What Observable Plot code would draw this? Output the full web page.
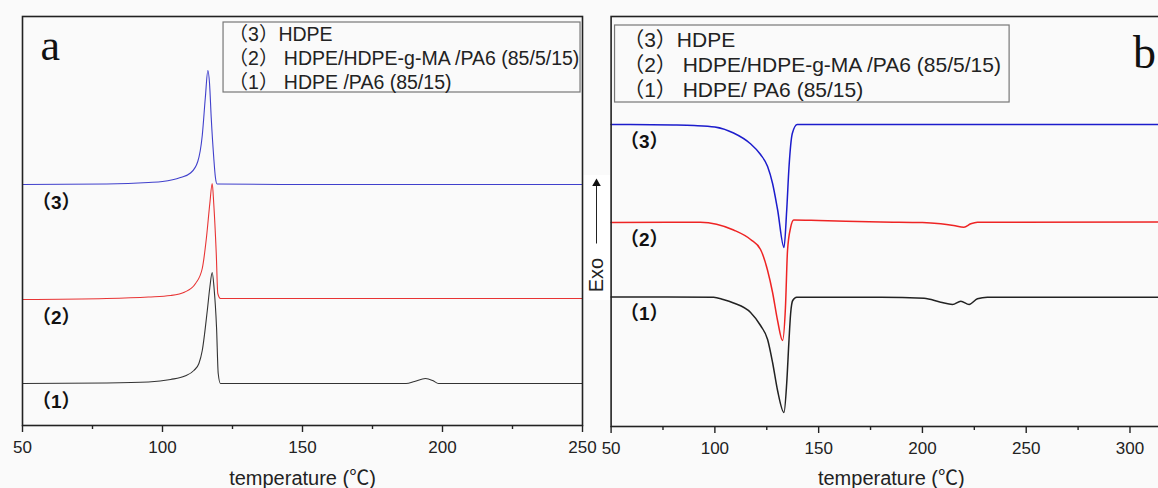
<!DOCTYPE html>
<html><head><meta charset="utf-8">
<script src="https://cdn.jsdelivr.net/npm/d3@7"></script>
<script src="https://cdn.jsdelivr.net/npm/@observablehq/plot@0.6"></script>
<style>
html,body{margin:0;padding:0;background:#fafafa;}
#wrap{position:relative;width:1158px;height:488px;overflow:hidden;background:#fafafa;}
#pa{position:absolute;left:0;top:0;width:600px;}
#pb{position:absolute;left:590px;top:0;width:581px;}
#wrap svg{max-width:none !important;}
</style></head><body><div id="wrap"><div id="pa"></div><div id="pb"></div></div>
<script>
// ---------- data ----------
const tempTicksA = [50, 100, 150, 200, 250];
const tempMinorA = [75, 125, 175, 225];
const tempTicksB = [50, 100, 150, 200, 250, 300];
const tempMinorB = [75, 125, 175, 225, 275];
const legendA = ["（3）HDPE", "（2） HDPE/HDPE-g-MA /PA6 (85/5/15)", "（1） HDPE /PA6 (85/15)"];
const legendB = ["（3）HDPE", "（2） HDPE/HDPE-g-MA /PA6 (85/5/15)", "（1） HDPE/ PA6 (85/15)"];
const curveTags = ["（3）", "（2）", "（1）"];
const axisTitle = "temperature (℃)";
const exoLabel = "Exo";

// panel a: cooling scans [temperature °C, shifted heat flow]
const coolHDPE = [[50,241],[80,241.5],[95,243],[100,244],[106.4,248],[110,252.5],[112.6,264],[114.2,290],[115.3,328],[116.2,355],[116.8,342],[117.4,308],[118.3,268],[118.9,248],[119.5,241.5],[150,241],[250,241]];
const coolCompat = [[50,126],[80,127],[95,128.5],[102.9,130],[108,133.5],[111.8,142],[114.2,157],[115.7,188],[116.9,222],[117.75,242],[118.3,222],[119.2,172],[119.75,132],[120.7,127],[150,127],[250,127]];
const coolBlend = [[50,42],[80,42.5],[95,43.5],[102.9,46],[108,49.5],[111.2,55],[113,62],[114.2,75],[116,115],[116.9,138],[117.75,153],[118.4,138],[119.3,98],[119.9,52],[120.7,42],[150,42],[187,42],[190,44],[193.9,47],[196.5,45],[198.6,42],[250,42]];

// panel b: heating scans
const meltHDPE = [[50,302],[80,301.5],[90,301],[100,299.5],[109,293.5],[117,283],[122,272],[125.4,260],[127.8,243],[130.2,217],[133.3,179],[134.6,216],[135.7,259],[137.3,293],[139.7,302],[200,302],[320,302]];
const meltCompat = [[50,204],[93,204.3],[109,196.5],[117.2,187],[122,177],[125.4,156],[127.8,134],[130.2,106],[132.6,86],[134,119],[135,176],[136.5,199],[138,206.5],[150,206],[180,204.5],[200,204],[208.8,202.7],[215,201],[220,199.3],[223.3,202.7],[226.5,204.3],[320,204.5]];
const meltBlend = [[50,129.5],[99.4,129.3],[104,127],[109,123.5],[117.2,114],[122,101],[125.4,87],[127.8,64],[130.2,36],[133.3,14],[134.6,43],[135.7,86],[136.5,113],[137.5,126],[139.4,129.3],[180,129.3],[200.8,128.3],[208.8,124.3],[214.5,122],[218.5,125.3],[222.5,122],[226.5,127.7],[231.3,129.3],[320,129.3]];

// ---------- drawing ----------
const SANS = "'Liberation Sans', Arial, 'Noto Sans CJK SC', sans-serif";
const SERIF = "'Liberation Serif', 'Times New Roman', serif";
const X = d => d[0], Y = d => d[1];

const seriesA = [coolHDPE, coolCompat, coolBlend];
const seriesB = [meltHDPE, meltCompat, meltBlend];

const plotA = Plot.plot({
  width: 600, height: 488,
  marginLeft: 22, marginRight: 18, marginTop: 16, marginBottom: 63,
  x: {domain: [50, 250]},
  y: {domain: [0, 409], axis: null},
  style: {background: "transparent", fontFamily: SANS, fontSize: "17px", color: "#222", overflow: "visible"},
  marks: [
    Plot.rect([0], {x1: 250.5, x2: 260, y1: 125, y2: 250, fill: "white"}),
    Plot.line(coolHDPE, {x: X, y: Y, stroke: "#4040cc", strokeWidth: 1.1, curve: "monotone-x"}),
    Plot.line(coolCompat, {x: X, y: Y, stroke: "#e83434", strokeWidth: 1.1, curve: "monotone-x"}),
    Plot.line(coolBlend, {x: X, y: Y, stroke: "#333", strokeWidth: 1.1, curve: "monotone-x"}),
    Plot.frame({stroke: "#222", strokeWidth: 1.6}),
    Plot.axisX({ticks: tempMinorA, tickSize: 4, tickFormat: () => "", strokeWidth: 1.4, label: null}),
    Plot.axisX({ticks: tempTicksA, tickSize: 7, tickPadding: 8, strokeWidth: 1.4, label: null, fontSize: 17}),
    Plot.text([axisTitle], {frameAnchor: "bottom", dy: 59, fontSize: 20, fill: "#222"}),
    Plot.text(["a"], {frameAnchor: "top-left", dx: 18, dy: 12, fontSize: 44, fontFamily: SERIF, fill: "#111"}),
    Plot.rect([0], {x1: 121.8, x2: 249.3, y1: 333, y2: 403, stroke: "#777", strokeWidth: 1.2, fill: "none"}),
    Plot.text(legendA, {x: 123.6, y: (d, i) => 391 - i * 24, text: d => d, textAnchor: "start", fontSize: 19.5, fill: "#222"}),
    Plot.text(curveTags, {x: 53.4, y: (d, i) => seriesA[i][0][1], dy: 18, text: d => d, textAnchor: "start", fontSize: 19, fontWeight: "bold", fill: "#111"}),
    Plot.link([0], {x1: 255, x2: 255, y1: 182, y2: 240, stroke: "#222", strokeWidth: 1}),
    Plot.dot([0], {x: 255, y: 242, symbol: "triangle", r: 3.2, fill: "#111", stroke: "none"}),
    Plot.text([exoLabel], {x: 255, y: 150.5, rotate: -90, fontSize: 20, fill: "#222"})
  ]
});
document.getElementById("pa").appendChild(plotA);

const plotB = Plot.plot({
  width: 581, height: 488,
  marginLeft: 20.6, marginRight: 0, marginTop: 16, marginBottom: 62,
  x: {domain: [50, 320]},
  y: {domain: [0, 410], axis: null},
  style: {background: "transparent", fontFamily: SANS, fontSize: "17px", color: "#222", overflow: "visible"},
  marks: [
    Plot.line(meltHDPE, {x: X, y: Y, stroke: "#1c1ccc", strokeWidth: 1.5, curve: "monotone-x"}),
    Plot.line(meltCompat, {x: X, y: Y, stroke: "#ee2424", strokeWidth: 1.5, curve: "monotone-x"}),
    Plot.line(meltBlend, {x: X, y: Y, stroke: "#222", strokeWidth: 1.5, curve: "monotone-x"}),
    Plot.frame({stroke: "#222", strokeWidth: 1.6}),
    Plot.axisX({ticks: tempMinorB, tickSize: 4, tickFormat: () => "", strokeWidth: 1.4, label: null}),
    Plot.axisX({ticks: tempTicksB, tickSize: 7, tickPadding: 8, strokeWidth: 1.4, label: null, fontSize: 17}),
    Plot.text([axisTitle], {frameAnchor: "bottom", dy: 58, fontSize: 20, fill: "#222"}),
    Plot.text(["b"], {frameAnchor: "top-left", dx: 522, dy: 19, fontSize: 46, fontFamily: SERIF, fill: "#111"}),
    Plot.rect([0], {x1: 51.9, x2: 242, y1: 324, y2: 401, stroke: "#777", strokeWidth: 1.2, fill: "none"}),
    Plot.text(legendB, {x: 55.8, y: (d, i) => 386 - i * 25, text: d => d, textAnchor: "start", fontSize: 21, fill: "#222"}),
    Plot.text(curveTags, {x: 54.3, y: (d, i) => seriesB[i][0][1], dy: 17, text: d => d, textAnchor: "start", fontSize: 19, fontWeight: "bold", fill: "#111"})
  ]
});
document.getElementById("pb").appendChild(plotB);
</script></body></html>
